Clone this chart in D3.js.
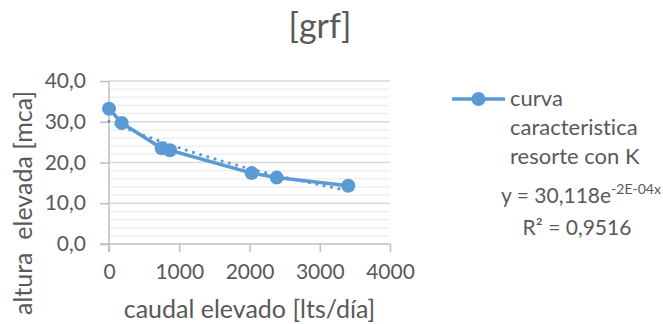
<!DOCTYPE html>
<html>
<head>
<meta charset="utf-8">
<script src="https://cdn.jsdelivr.net/npm/d3@7"></script>
<style>
  html, body { margin: 0; padding: 0; background: #fff; }
  svg { display: block; font-family: Lato, "Open Sans", sans-serif; font-variant-ligatures: none; }
</style>
</head>
<body>
<svg id="chart" width="663" height="324"></svg>
<script>
// Pump characteristic: discharge (lts/día) vs lift height (mca)
const caudal = [0, 181, 750, 868, 2031, 2387, 3406];
const altura = [33.2, 29.7, 23.5, 23.0, 17.4, 16.3, 14.3];
const xTicks = [0, 1000, 2000, 3000, 4000];
const yTicks = [0, 10, 20, 30, 40];
const yMinor = d3.range(0, 40.01, 2);
const chartTitle = "[grf]";
const xTitle = "caudal elevado [lts/día]";
const yTitle = "altura  elevada [mca]";
const seriesName = ["curva", "caracteristica", "resorte con K"];
const eqMain = "y = 30,118e";
const eqExp = "-2E-04x";
const r2Text = "R² = 0,9516";

const blue = "#5B9BD5";
const textCol = "#595959";

const svg = d3.select("#chart");
const x = d3.scaleLinear().domain([0, 4000]).range([109, 390]);
const y = d3.scaleLinear().domain([0, 40]).range([244, 81]);

// minor and major gridlines
svg.append("g").selectAll("line").data(yMinor.filter(v => v % 10 !== 0)).join("line")
  .attr("x1", x(0)).attr("x2", x(4000))
  .attr("y1", d => y(d)).attr("y2", d => y(d))
  .attr("stroke", "#efefef").attr("stroke-width", 1.5);
svg.append("g").selectAll("line").data(yTicks.filter(v => v !== 0)).join("line")
  .attr("x1", x(0)).attr("x2", x(4000))
  .attr("y1", d => y(d)).attr("y2", d => y(d))
  .attr("stroke", "#d9d9d9").attr("stroke-width", 1.5);

// axes
const fmtY = d => d3.format(".1f")(d).replace(".", ",");
const yAxis = svg.append("g").attr("transform", `translate(${x(0)},0)`)
  .call(d3.axisLeft(y).tickValues(yTicks).tickFormat(fmtY).tickSize(9).tickPadding(14));
const xAxis = svg.append("g").attr("transform", `translate(0,${y(0)})`)
  .call(d3.axisBottom(x).tickValues(xTicks).tickFormat(d3.format("d")).tickSize(8).tickPadding(12));
[yAxis, xAxis].forEach(g => {
  g.select(".domain").remove();
  g.selectAll(".tick line").attr("stroke", "#bfbfbf").attr("stroke-width", 1.5);
  g.selectAll(".tick text").attr("fill", textCol).attr("font-size", 21)
    .attr("font-family", "Lato, sans-serif");
});
svg.append("line").attr("x1", x(0)).attr("x2", x(0)).attr("y1", y(40)).attr("y2", y(0) + 8)
  .attr("stroke", "#bfbfbf").attr("stroke-width", 1.5);
svg.append("line").attr("x1", x(0) - 9).attr("x2", x(4000)).attr("y1", y(0)).attr("y2", y(0))
  .attr("stroke", "#bfbfbf").attr("stroke-width", 1.5);

// exponential trendline fitted on ln(altura)
const lnY = altura.map(v => Math.log(v));
const mx = d3.mean(caudal), my = d3.mean(lnY);
const b = d3.sum(caudal, (v, i) => (v - mx) * (lnY[i] - my)) / d3.sum(caudal, v => (v - mx) ** 2);
const a = Math.exp(my - b * mx);
const trendX = d3.range(0, d3.max(caudal) + 1, 20);
svg.append("path")
  .datum(trendX)
  .attr("d", d3.line().x(d => x(d)).y(d => y(a * Math.exp(b * d))))
  .attr("fill", "none").attr("stroke", blue).attr("stroke-width", 3.2)
  .attr("stroke-linecap", "round").attr("stroke-dasharray", "0 7.5");

// data series
const pts = caudal.map((c, i) => [c, altura[i]]);
svg.append("path").datum(pts)
  .attr("d", d3.line().x(d => x(d[0])).y(d => y(d[1])))
  .attr("fill", "none").attr("stroke", blue).attr("stroke-width", 3.5)
  .attr("stroke-linejoin", "round");
svg.append("g").selectAll("circle").data(pts).join("circle")
  .attr("cx", d => x(d[0])).attr("cy", d => y(d[1])).attr("r", 7)
  .attr("fill", blue);

// title and axis titles
svg.append("text").attr("x", 320).attr("y", 38).attr("text-anchor", "middle")
  .attr("font-size", 34).attr("fill", textCol).text(chartTitle);
svg.append("text").attr("x", (x(0) + x(4000)) / 2).attr("y", 318).attr("text-anchor", "middle")
  .attr("font-size", 25).attr("fill", textCol).text(xTitle);
svg.append("text").attr("transform", "translate(32,203) rotate(-90)").attr("text-anchor", "middle")
  .attr("font-size", 25).attr("fill", textCol).style("white-space", "pre").text(yTitle);

// legend
const lg = svg.append("g");
lg.append("line").attr("x1", 452).attr("x2", 505).attr("y1", 99).attr("y2", 99)
  .attr("stroke", blue).attr("stroke-width", 3.5);
lg.append("circle").attr("cx", 478.5).attr("cy", 99).attr("r", 7).attr("fill", blue);
lg.selectAll("text").data(seriesName).join("text")
  .attr("x", 510).attr("y", (d, i) => 106 + i * 29)
  .attr("font-size", 22).attr("fill", textCol).text(d => d);

// trendline equation
const eq = svg.append("text").attr("x", 581).attr("y", 203).attr("text-anchor", "middle")
  .attr("font-size", 21).attr("fill", textCol);
eq.append("tspan").text(eqMain);
eq.append("tspan").attr("font-size", 14).attr("dy", -9).text(eqExp);
svg.append("text").attr("x", 577).attr("y", 235).attr("text-anchor", "middle")
  .attr("font-size", 21).attr("fill", textCol).text(r2Text);
</script>
</body>
</html>
